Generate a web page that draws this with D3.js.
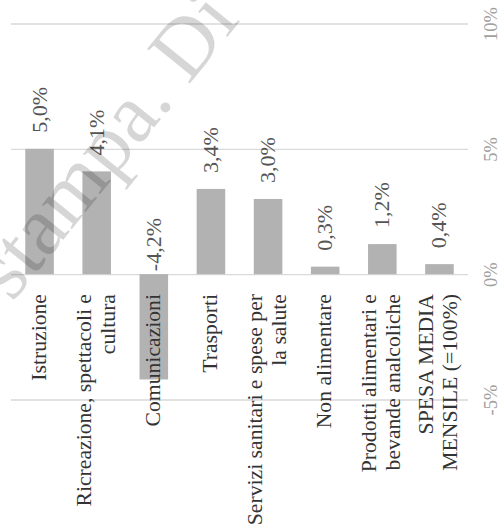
<!DOCTYPE html>
<html>
<head>
<meta charset="utf-8">
<script src="https://cdn.jsdelivr.net/npm/d3@7"></script>
<style>
  html, body { margin: 0; padding: 0; background: #fff; }
  svg { display: block; }
  text { font-family: "Liberation Serif", "DejaVu Serif", serif; }
</style>
</head>
<body>
<svg id="chart" width="501" height="527"></svg>
<script>
// Category labels ("\n" marks a line break) and percentage changes
const categories = [
  "Istruzione",
  "Ricreazione, spettacoli e\ncultura",
  "Comunicazioni",
  "Trasporti",
  "Servizi sanitari e spese per\nla salute",
  "Non alimentare",
  "Prodotti alimentari e\nbevande analcoliche",
  "SPESA MEDIA\nMENSILE (=100%)"
];
const values = [5.0, 4.1, -4.2, 3.4, 3.0, 0.3, 1.2, 0.4];
const tickValues = [-5, 0, 5, 10];
const tickLabels = ["-5%", "0%", "5%", "10%"];
const watermarkText = "stampa. Di";

const svg = d3.select("#chart");

const plotLeft = 11, plotRight = 468, plotTop = 23.5, plotBottom = 399.5;

const x = d3.scaleBand()
  .domain(categories)
  .range([plotLeft, plotRight])
  .paddingInner(0.5)
  .paddingOuter(0.25);

const y = d3.scaleLinear()
  .domain([-5, 10])
  .range([plotBottom, plotTop]);

const fmt = v => (v < 0 ? "-" : "") + Math.abs(v).toFixed(1).replace(".", ",") + "%";

// Gridlines + rotated value axis on the right
const axis = svg.append("g")
  .attr("transform", `translate(${plotRight},0)`)
  .call(d3.axisRight(y)
    .tickValues(tickValues)
    .tickSize(-(plotRight - plotLeft))
    .tickFormat((d, i) => tickLabels[i]));
axis.select(".domain").remove();
axis.selectAll(".tick line")
  .attr("stroke", "#d9d9d9")
  .attr("stroke-width", 1.3);
axis.selectAll(".tick text")
  .attr("x", 0)
  .attr("dy", 0)
  .attr("transform", "translate(28.5,0) rotate(-90)")
  .attr("text-anchor", "middle")
  .attr("fill", "#a0a0a0")
  .style("font-size", "18.5px")
  .style("font-family", "'Liberation Serif', serif");

// Bars
svg.append("g").selectAll("rect")
  .data(values)
  .join("rect")
  .attr("x", (d, i) => x(categories[i]))
  .attr("width", x.bandwidth())
  .attr("y", d => y(Math.max(0, d)))
  .attr("height", d => Math.abs(y(d) - y(0)))
  .attr("fill", "#b2b2b2");

// Value labels
svg.append("g").selectAll("text")
  .data(values)
  .join("text")
  .attr("transform", (d, i) => {
    const cx = x(categories[i]) + x.bandwidth() / 2 + 7;
    const yy = d >= 0 ? y(d) - 16 : y(0) - 3;
    return `translate(${cx},${yy}) rotate(-90)`;
  })
  .attr("text-anchor", "start")
  .attr("fill", "#555555")
  .style("font-size", "22px")
  .text(d => fmt(d));

// Category labels, rotated, ending just below the zero line
const catG = svg.append("g");
categories.forEach(c => {
  const lines = c.split("\n");
  const cx = x(c) + x.bandwidth() / 2 + 6;
  lines.forEach((ln, j) => {
    const off = (j - (lines.length - 1) / 2) * 24;
    catG.append("text")
      .attr("transform", `translate(${cx + off},294) rotate(-90)`)
      .attr("text-anchor", "end")
      .attr("fill", "#333333")
      .style("font-size", "21.7px")
      .text(ln);
  });
});

// Diagonal watermark across the plot
svg.append("text")
  .attr("transform", "translate(12,303) rotate(-51)")
  .attr("fill", "#000")
  .attr("fill-opacity", 0.16)
  .style("font-size", "84px")
  .text(watermarkText);
</script>
</body>
</html>
